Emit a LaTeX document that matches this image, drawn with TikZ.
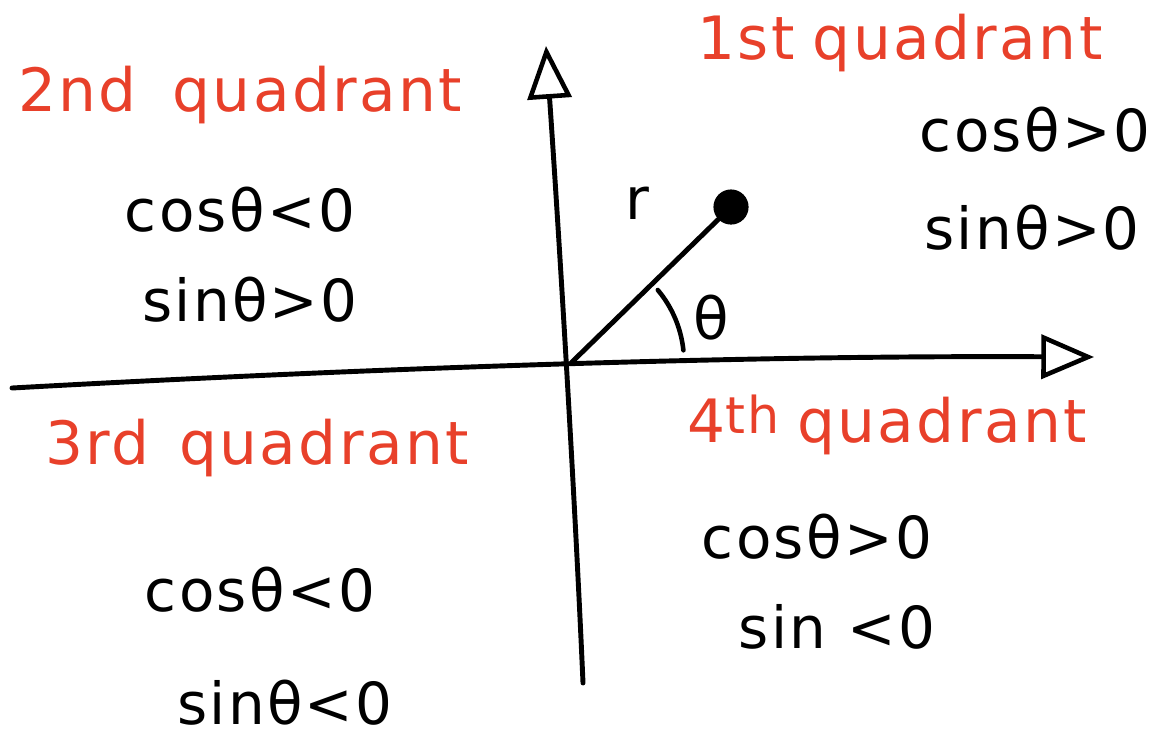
\documentclass[tikz,border=0pt]{standalone}
\usepackage{fontspec}
\usetikzlibrary{arrows.meta}
\newfontfamily\handfont{DejaVu Sans}[LetterSpace=4]
\definecolor{quadred}{HTML}{E8402A}
\tikzset{
    quadlabel/.style={text=quadred, font=\handfont\fontsize{34}{40}\selectfont, inner sep=0pt},
    signlabel/.style={text=black, font=\handfont\fontsize{33}{40}\selectfont, inner sep=0pt},
    axisline/.style={line width=2.8pt, line cap=round, -{Triangle[open, length=30pt, width=25pt, line width=2.6pt]}}
}
\begin{document}
\begin{tikzpicture}[x=0.02cm, y=-0.02cm]
        \useasboundingbox (0,0) rectangle (1168,741);

        % Axes
        \coordinate (O) at (572,362);
        \coordinate (xstart) at (12,388);
        \coordinate (xend) at (1094,357);
        \coordinate (ystart) at (583,683);
        \coordinate (yend) at (546,46);
        \draw[axisline] (xstart) .. controls (300,372) and (700,355) .. (xend);
        \draw[axisline] (ystart) .. controls (575,500) and (560,250) .. (yend);

        % Radius and angle
        \node[circle, fill=black, minimum size=20pt, inner sep=0pt] (pt) at (731,207) {};
        \draw[line width=2.8pt, line cap=round] (O) -- (pt);
        \node[signlabel] (rlabel) at (637,203) {r};
        \draw[line width=2.6pt, line cap=round] (O) ++(-40:112) arc[start angle=-40, end angle=-6, radius=112];
        \node[signlabel] (thlabel) at (711,318) {θ};

        % 1st quadrant
        \node[quadlabel] (q1) at (900,43) {1st\hspace{0.3em}quadrant};
        \node[signlabel] (q1cos) at (1035,130) {cosθ>0};
        \node[signlabel] (q1sin) at (1032,228) {sinθ>0};

        % 2nd quadrant
        \node[quadlabel] (q2) at (240,95) {2nd\hspace{0.6em}quadrant};
        \node[signlabel] (q2cos) at (240,210) {cosθ<0};
        \node[signlabel] (q2sin) at (250,300) {sinθ>0};

        % 3rd quadrant
        \node[quadlabel] (q3) at (257,448) {3rd\hspace{0.5em}quadrant};
        \node[signlabel] (q3cos) at (260,590) {cosθ<0};
        \node[signlabel] (q3sin) at (285,703) {sinθ<0};

        % 4th quadrant
        \node[quadlabel] (q4) at (887,425) {4\raisebox{0.3ex}{\scalebox{0.85}{th}}\hspace{0.3em}quadrant};
        \node[signlabel] (q4cos) at (817,537) {cosθ>0};
        \node[signlabel] (q4sin) at (837,627) {sin <0};
    \end{tikzpicture}
\end{document}
